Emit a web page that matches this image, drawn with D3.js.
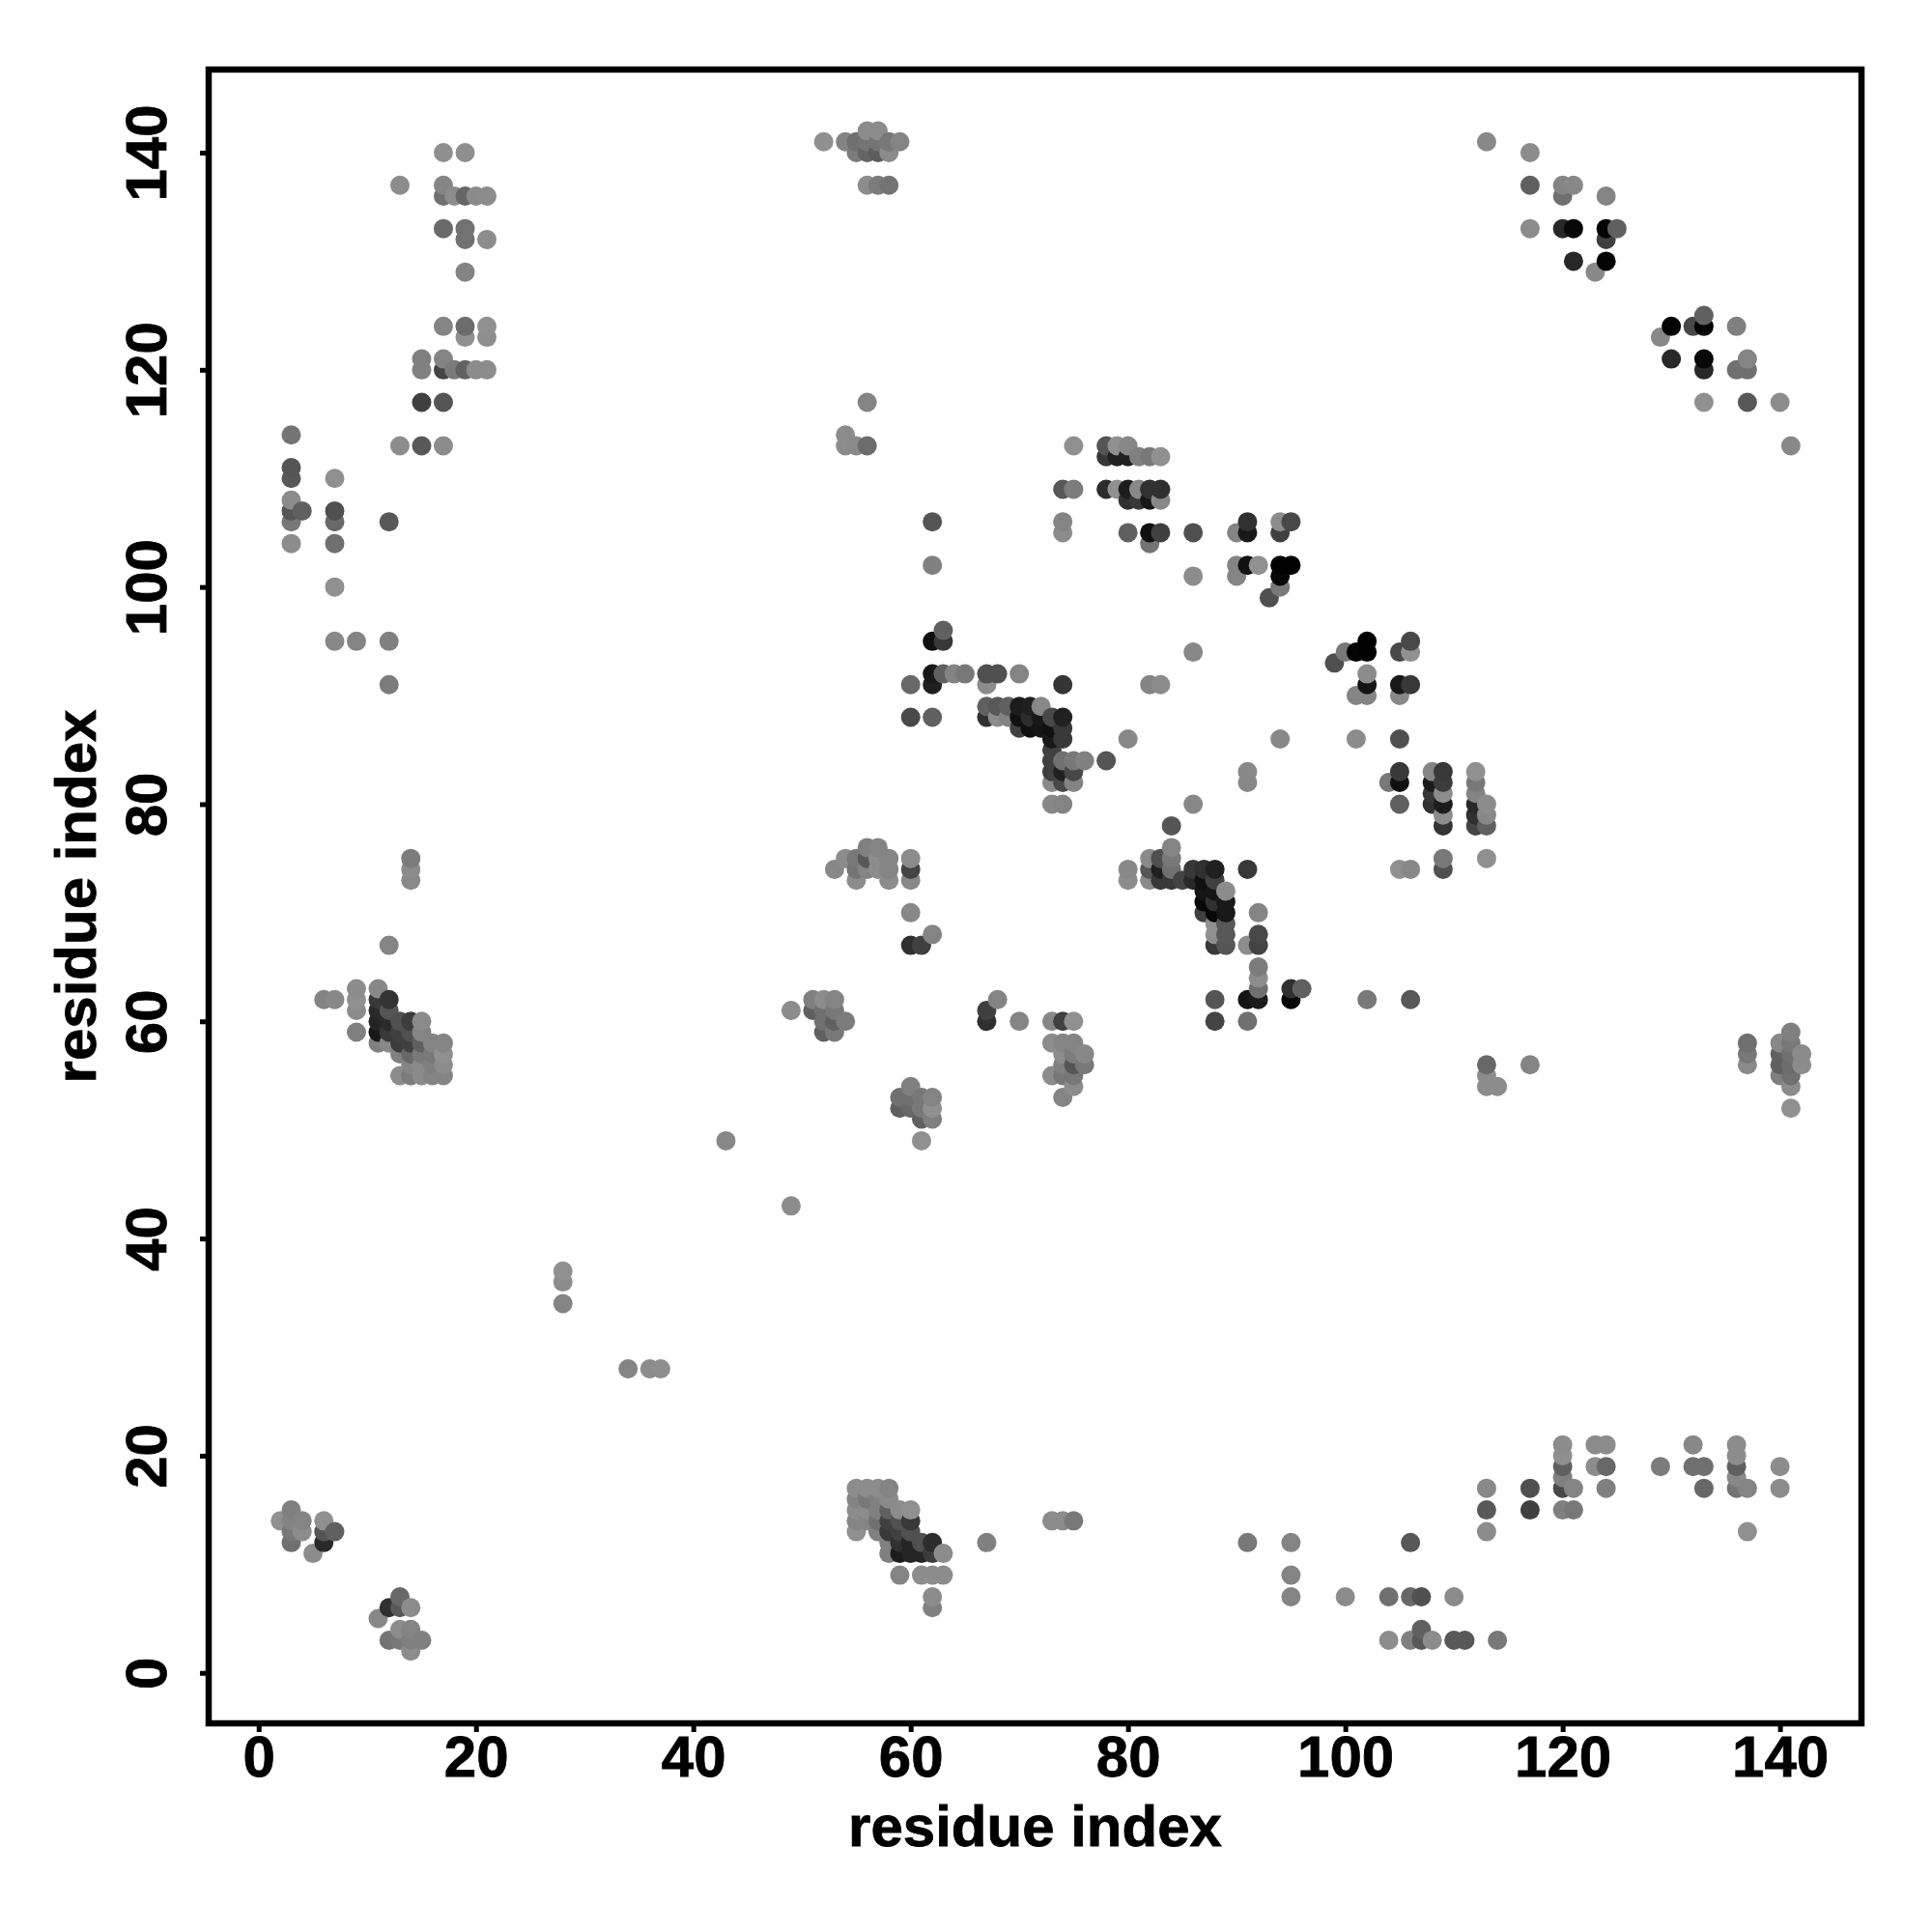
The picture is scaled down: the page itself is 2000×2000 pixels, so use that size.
<!DOCTYPE html>
<html><head><meta charset="utf-8">
<style>html,body{margin:0;padding:0;background:#fff}svg{display:block}text{font-family:"Liberation Sans",Arial,sans-serif;font-weight:700;fill:#000;stroke:#000;stroke-width:0.8px}</style>
<script src="https://cdn.jsdelivr.net/npm/d3@7"></script></head><body><svg id="c" width="2000" height="2000"></svg>
<script>
const xTicks=[0,20,40,60,80,100,120,140];
const yTicks=[0,20,40,60,80,100,120,140];
const xLabel="residue index", yLabel="residue index";
// [residue x, residue y, grey level]
const topLeft=[[17,140,0x8f],[19,140,0x8f],[13,137,0x8c],[17,137,0x86],[17,136,0x70],[18,136,0x8c],[19,136,0x66],[20,136,0x8a],[21,136,0x8c],[17,133,0x6a],[19,133,0x72],[19,132,0x72],[21,132,0x8c],[19,129,0x84],[17,124,0x84],[19,124,0x6c],[21,124,0x90],[19,123,0x90],[21,123,0x8e],[15,121,0x80],[17,121,0x84],[15,120,0x82],[17,120,0x44],[18,120,0x7a],[19,120,0x62],[20,120,0x8c],[21,120,0x8c],[15,117,0x40],[17,117,0x55],[3,114,0x74],[13,113,0x8c],[15,113,0x58],[17,113,0x8c],[3,111,0x55],[3,110,0x58],[7,110,0x90],[3,108,0x8c],[3,107,0x55],[4,107,0x60],[7,107,0x50],[3,106,0x78],[7,106,0x68],[12,106,0x58],[3,104,0x8c],[7,104,0x70],[7,100,0x90],[7,95,0x88],[9,95,0x84],[12,95,0x80],[12,91,0x7c]];
const midLeft=[[14,75,0x7c],[14,74,0x8c],[14,73,0x8a],[12,67,0x84],[9,63,0x8c],[11,63,0x88],[6,62,0x84],[7,62,0x88],[9,62,0x90],[11,62,0x38],[12,62,0x33],[9,61,0x8c],[11,61,0x2a],[12,61,0x55],[11,60,0x24],[12,60,0x2a],[13,60,0x50],[14,60,0x3c],[15,60,0x8a],[9,59,0x80],[11,59,0x18],[12,59,0x38],[13,59,0x40],[14,59,0x50],[15,59,0x84],[11,58,0x80],[12,58,0x88],[13,58,0x3c],[14,58,0x40],[15,58,0x60],[16,58,0x84],[17,58,0x84],[13,57,0x80],[14,57,0x68],[15,57,0x78],[16,57,0x78],[17,57,0x90],[14,56,0x84],[15,56,0x8a],[16,56,0x80],[17,56,0x8c],[13,55,0x8c],[14,55,0x7c],[15,55,0x8a],[16,55,0x84],[17,55,0x84],[43,49,0x88],[49,43,0x8c]];
const bottomLeft=[[28,37,0x90],[28,36,0x8c],[28,34,0x84],[34,28,0x84],[36,28,0x8c],[37,28,0x8e],[3,15,0x80],[2,14,0x90],[3,14,0x84],[4,14,0x84],[6,14,0x90],[3,13,0x78],[4,13,0x8c],[6,13,0x55],[7,13,0x60],[3,12,0x70],[6,12,0x2a],[5,11,0x8c],[13,7,0x68],[12,6,0x30],[13,6,0x58],[14,6,0x8c],[11,5,0x88],[13,4,0x8c],[14,4,0x84],[12,3,0x74],[13,3,0x78],[14,3,0x80],[15,3,0x80],[14,2,0x8c]];
const topCentre=[[56,142,0x8c],[57,142,0x8c],[52,141,0x90],[54,141,0x84],[55,141,0x70],[56,141,0x74],[57,141,0x74],[58,141,0x78],[59,141,0x84],[55,140,0x7c],[56,140,0x64],[57,140,0x5c],[58,140,0x8a],[56,137,0x8c],[57,137,0x7c],[58,137,0x74],[56,117,0x84],[54,114,0x8c],[54,113,0x8c],[55,113,0x8a],[56,113,0x6c],[75,113,0x90],[78,113,0x55],[79,113,0x90],[80,113,0x88],[78,112,0x38],[79,112,0x20],[80,112,0x20],[81,112,0x80],[82,112,0x78],[83,112,0x90],[74,109,0x58],[75,109,0x7c],[78,109,0x2c],[79,109,0x90],[80,109,0x1c],[81,109,0x88],[82,109,0x30],[83,109,0x30],[80,108,0x30],[81,108,0x38],[82,108,0x18],[83,108,0x88],[62,106,0x55],[74,106,0x84],[91,106,0x30],[94,106,0x8c],[95,106,0x48],[74,105,0x8c],[80,105,0x60],[82,105,0x10],[83,105,0x40],[86,105,0x50],[90,105,0x84],[91,105,0x18],[94,105,0x40],[82,104,0x74],[62,102,0x80],[90,102,0x84],[91,102,0x10],[92,102,0x90],[94,102,0x00],[95,102,0x00],[86,101,0x8c],[90,101,0x84],[94,101,0x08],[94,100,0x78],[93,99,0x50]];
const topRight=[[113,141,0x88],[117,140,0x8c],[117,137,0x60],[120,137,0x84],[121,137,0x88],[120,136,0x70],[124,136,0x84],[117,133,0x8c],[120,133,0x28],[121,133,0x08],[124,133,0x04],[125,133,0x60],[124,132,0x40],[121,130,0x28],[124,130,0x04],[123,129,0x88],[133,125,0x60],[130,124,0x04],[132,124,0x48],[133,124,0x04],[136,124,0x80],[129,123,0x88],[130,121,0x28],[133,121,0x08],[137,121,0x84],[133,120,0x28],[136,120,0x70],[137,120,0x70],[133,117,0x90],[137,117,0x58],[140,117,0x8c],[141,113,0x88]];
const centre=[[62,95,0x10],[63,95,0x38],[63,96,0x60],[86,94,0x88],[62,92,0x18],[63,92,0x60],[64,92,0x84],[65,92,0x78],[67,92,0x50],[68,92,0x50],[70,92,0x84],[60,91,0x68],[62,91,0x20],[67,91,0x8c],[74,91,0x35],[82,91,0x84],[83,91,0x8c],[67,89,0x60],[68,89,0x58],[69,89,0x60],[70,89,0x1c],[71,89,0x20],[72,89,0x88],[60,88,0x48],[62,88,0x60],[67,88,0x30],[68,88,0x8c],[69,88,0x84],[70,88,0x10],[71,88,0x2c],[72,88,0x18],[73,88,0x48],[74,88,0x20],[70,87,0x40],[71,87,0x10],[72,87,0x14],[73,87,0x10],[74,87,0x38],[73,86,0x18],[74,86,0x38],[80,86,0x88],[94,86,0x88],[73,85,0x40],[73,84,0x40],[74,84,0x70],[75,84,0x78],[76,84,0x80],[78,84,0x55],[73,83,0x40],[74,83,0x20],[75,83,0x48],[91,83,0x88],[73,82,0x88],[74,82,0x48],[75,82,0x84],[91,82,0x88],[73,80,0x88],[74,80,0x84],[86,80,0x88],[84,78,0x55],[56,76,0x80],[57,76,0x84],[84,76,0x84],[54,75,0x8c],[55,75,0x78],[56,75,0x58],[57,75,0x8c],[58,75,0x84],[60,75,0x8c],[82,75,0x8a],[83,75,0x50],[84,75,0x78],[53,74,0x88],[55,74,0x74],[56,74,0x84],[57,74,0x8c],[58,74,0x84],[60,74,0x44],[80,74,0x88],[82,74,0x55],[83,74,0x20],[84,74,0x70],[86,74,0x38],[87,74,0x30],[88,74,0x20],[91,74,0x38],[55,73,0x8c],[58,73,0x8c],[60,73,0x88],[80,73,0x8c],[82,73,0x8a],[83,73,0x38],[84,73,0x38],[85,73,0x44],[86,73,0x28],[87,73,0x10],[88,73,0x40],[87,72,0x14],[88,72,0x14],[89,72,0x8c],[87,71,0x08],[88,71,0x30],[89,71,0x18],[60,70,0x88],[87,70,0x40],[88,70,0x08],[89,70,0x18],[92,70,0x84],[88,69,0x90],[89,69,0x58],[62,68,0x84],[88,68,0x90],[89,68,0x58],[92,68,0x48],[60,67,0x30],[61,67,0x40],[88,67,0x38],[89,67,0x55],[91,67,0x8c],[92,67,0x44],[92,65,0x7c],[92,64,0x8c],[92,63,0x70],[95,63,0x30],[96,63,0x60],[51,62,0x80],[52,62,0x8c],[53,62,0x84],[68,62,0x84],[88,62,0x55],[91,62,0x14],[92,62,0x1c],[95,62,0x08],[49,61,0x8c],[51,61,0x60],[52,61,0x70],[53,61,0x78],[67,61,0x40],[52,60,0x70],[53,60,0x60],[54,60,0x7c],[67,60,0x30],[70,60,0x84],[73,60,0x88],[74,60,0x40],[75,60,0x90],[88,60,0x44],[91,60,0x70],[52,59,0x60],[53,59,0x78],[73,58,0x8c],[74,58,0x84],[75,58,0x84],[74,57,0x8c],[75,57,0x7c],[76,57,0x88],[74,56,0x80],[75,56,0x55],[76,56,0x78],[73,55,0x8c],[74,55,0x78],[75,55,0x78],[60,54,0x80],[75,54,0x8c],[59,53,0x70],[60,53,0x70],[61,53,0x78],[62,53,0x84],[74,53,0x84],[59,52,0x60],[60,52,0x68],[61,52,0x78],[62,52,0x90],[61,51,0x60],[62,51,0x80],[61,49,0x90]];
const midRight=[[102,95,0x00],[106,95,0x48],[100,94,0x78],[101,94,0x04],[102,94,0x00],[105,94,0x48],[106,94,0x90],[99,93,0x50],[102,92,0x8c],[102,91,0x14],[105,91,0x18],[106,91,0x38],[101,90,0x84],[102,90,0x84],[105,90,0x88],[101,86,0x8c],[105,86,0x50],[105,83,0x38],[108,83,0x84],[109,83,0x38],[112,83,0x90],[104,82,0x78],[105,82,0x10],[108,82,0x1c],[109,82,0x3c],[112,82,0x78],[108,81,0x38],[109,81,0x8c],[112,81,0x84],[105,80,0x60],[108,80,0x30],[109,80,0x1c],[112,80,0x28],[113,80,0x8c],[109,79,0x8c],[112,79,0x30],[113,79,0x88],[109,78,0x34],[112,78,0x44],[113,78,0x60],[109,75,0x78],[113,75,0x90],[105,74,0x90],[106,74,0x88],[109,74,0x50],[102,62,0x78],[106,62,0x58],[141,59,0x80],[137,58,0x70],[140,58,0x88],[141,58,0x78],[137,57,0x78],[140,57,0x60],[141,57,0x70],[142,57,0x8a],[113,56,0x68],[117,56,0x84],[137,56,0x8a],[140,56,0x60],[141,56,0x6c],[142,56,0x8c],[113,55,0x8c],[140,55,0x80],[141,55,0x70],[113,54,0x8c],[114,54,0x8c],[141,54,0x8c],[141,52,0x90]];
const bottomCentre=[[55,17,0x8c],[56,17,0x8c],[57,17,0x8c],[58,17,0x84],[55,16,0x84],[56,16,0x78],[57,16,0x80],[58,16,0x8a],[55,15,0x8c],[56,15,0x8c],[57,15,0x80],[58,15,0x60],[59,15,0x8c],[60,15,0x90],[55,14,0x84],[56,14,0x84],[57,14,0x70],[58,14,0x40],[59,14,0x50],[60,14,0x38],[73,14,0x8c],[74,14,0x8c],[75,14,0x78],[55,13,0x90],[57,13,0x80],[58,13,0x38],[59,13,0x40],[60,13,0x50],[58,12,0x80],[59,12,0x30],[60,12,0x24],[61,12,0x50],[62,12,0x2c],[67,12,0x80],[91,12,0x78],[95,12,0x84],[58,11,0x80],[59,11,0x1c],[60,11,0x24],[61,11,0x24],[62,11,0x3c],[63,11,0x8c],[59,9,0x84],[61,9,0x8c],[62,9,0x8c],[63,9,0x8c],[95,9,0x84],[62,7,0x8c],[95,7,0x84],[100,7,0x8c],[62,6,0x80]];
const bottomRight=[[120,21,0x8c],[123,21,0x8c],[124,21,0x8c],[132,21,0x88],[136,21,0x8c],[120,20,0x90],[136,20,0x8c],[120,19,0x60],[123,19,0x8c],[124,19,0x68],[129,19,0x7c],[132,19,0x70],[133,19,0x70],[136,19,0x60],[140,19,0x8c],[120,18,0x80],[136,18,0x88],[113,17,0x88],[117,17,0x50],[120,17,0x48],[121,17,0x84],[124,17,0x80],[133,17,0x68],[136,17,0x74],[137,17,0x84],[140,17,0x8c],[113,15,0x58],[117,15,0x40],[120,15,0x80],[121,15,0x78],[113,13,0x8c],[137,13,0x90],[106,12,0x58],[104,7,0x70],[106,7,0x68],[107,7,0x50],[110,7,0x8c],[107,4,0x60],[104,3,0x8c],[106,3,0x80],[107,3,0x58],[108,3,0x8c],[110,3,0x58],[111,3,0x58],[114,3,0x78]];

const contacts=[...topLeft,...midLeft,...bottomLeft,...topCentre,...topRight,...centre,...midRight,...bottomCentre,...bottomRight]
  .sort((a,b)=>a[0]-b[0]||a[1]-b[1]);

const L=216,R=1927,T=72,B=1784;
const x=d3.scaleLinear().domain([-4.6,147.5]).range([L,R]);
const y=d3.scaleLinear().domain([-4.65,147.65]).range([B,T]);
const shade=d3.scaleLinear().domain([0,255]).range(["#000000","#ffffff"]);
const svg=d3.select("#c");
svg.append("rect").attr("width",2000).attr("height",2000).attr("fill","#fff");
svg.append("g").selectAll("circle").data(contacts).join("circle")
  .attr("cx",d=>x(d[0])).attr("cy",d=>y(d[1])).attr("r",10).attr("fill",d=>shade(d[2]));
svg.append("rect").attr("x",L).attr("y",T).attr("width",R-L).attr("height",B-T)
  .attr("fill","none").attr("stroke","#000").attr("stroke-width",6.5);
const gx=svg.append("g").attr("transform",`translate(0,${B})`)
  .call(d3.axisBottom(x).tickValues(xTicks).tickSize(9).tickFormat(d3.format("d")));
gx.select(".domain").remove();
gx.selectAll("line").attr("stroke","#000").attr("stroke-width",5);
gx.selectAll("text").attr("y",55).attr("dy",null).attr("font-size",60);
const gy=svg.append("g").attr("transform",`translate(${L},0)`)
  .call(d3.axisLeft(y).tickValues(yTicks).tickSize(9).tickFormat(d3.format("d")));
gy.select(".domain").remove();
gy.selectAll("line").attr("stroke","#000").attr("stroke-width",5);
gy.selectAll("text").attr("x",null).attr("dy",null).attr("text-anchor","middle")
  .attr("transform","translate(-44,0) rotate(-90)").attr("y",0).attr("font-size",60);
svg.append("text").attr("x",(L+R)/2).attr("y",1911).attr("text-anchor","middle").attr("font-size",60).text(xLabel);
svg.append("text").attr("transform",`translate(99,${(T+B)/2}) rotate(-90)`).attr("text-anchor","middle").attr("font-size",60).text(yLabel);
</script></body></html>
